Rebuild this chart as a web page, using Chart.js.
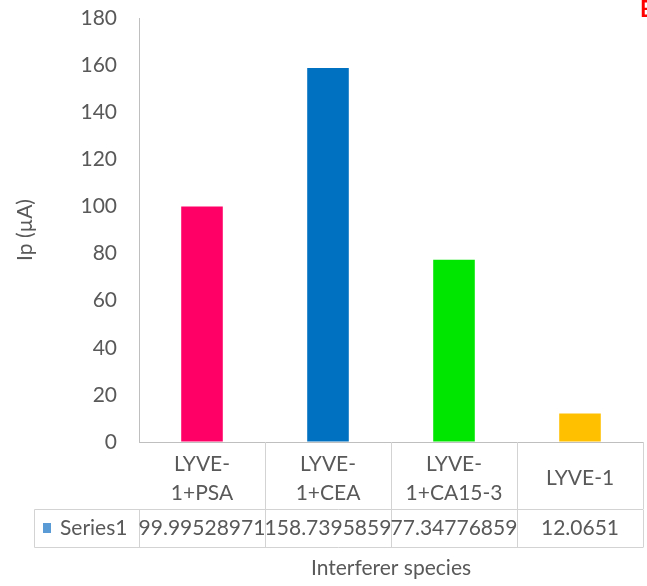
<!DOCTYPE html>
<html>
<head>
<meta charset="utf-8">
<script src="https://cdn.jsdelivr.net/npm/chart.js@4/dist/chart.umd.min.js"></script>
<style>
  html, body { margin: 0; padding: 0; background: #fff; }
  canvas { display: block; }
</style>
</head>
<body>
<canvas id="chart" width="647" height="586"></canvas>
<script>
// Peak current for each interferer mixture
const categories = [["LYVE-", "1+PSA"], ["LYVE-", "1+CEA"], ["LYVE-", "1+CA15-3"], ["LYVE-1"]];
const seriesName = "Series1";
const values = [99.99528971, 158.7395859, 77.34776859, 12.0651];
const barColors = ["#ff0066", "#0070c0", "#00e600", "#ffc000"];
const yTicks = [0, 20, 40, 60, 80, 100, 120, 140, 160, 180];
const panelLetter = "B";

const FONT = "Lato, 'Open Sans', sans-serif";
const SIZE = 21;
const TEXT = "#595959";
const AXIS = "#bfbfbf";
const GRID = "#d3d3d3";

// Excel-style data table drawn under the category axis
const dataTable = {
  id: "dataTable",
  afterDraw(chart) {
    const ctx = chart.ctx;
    const x = chart.scales.x;
    const area = chart.chartArea;
    const n = categories.length;
    const step = x.getPixelForValue(1) - x.getPixelForValue(0);
    const edges = [];
    for (let i = 0; i <= n; i++) edges.push(x.getPixelForValue(i) - step / 2);
    const headTop = area.bottom;
    const headBottom = headTop + 67;
    const rowBottom = headBottom + 38;
    const rowLeft = 34;

    ctx.save();
    ctx.strokeStyle = GRID;
    ctx.lineWidth = 1;
    ctx.beginPath();
    // header cell verticals (axis line forms the top edge)
    edges.forEach((e, i) => {
      if (i === 0) return;
      const px = Math.round(e) + 0.5;
      ctx.moveTo(px, headTop);
      ctx.lineTo(px, headBottom);
    });
    // series row
    const yb1 = Math.round(headBottom) + 0.5;
    const yb2 = Math.round(rowBottom) + 0.5;
    ctx.moveTo(rowLeft + 0.5, yb1);
    ctx.lineTo(edges[n], yb1);
    ctx.moveTo(rowLeft + 0.5, yb2);
    ctx.lineTo(edges[n], yb2);
    ctx.moveTo(rowLeft + 0.5, yb1);
    ctx.lineTo(rowLeft + 0.5, yb2);
    edges.forEach((e) => {
      const px = Math.round(e) + 0.5;
      ctx.moveTo(px, yb1);
      ctx.lineTo(px, yb2);
    });
    ctx.stroke();

    // legend key and series label
    const midY = (headBottom + rowBottom) / 2;
    ctx.fillStyle = "#5b9bd5";
    ctx.fillRect(43, midY - 5, 8, 10);
    ctx.fillStyle = TEXT;
    ctx.font = SIZE + "px " + FONT;
    ctx.textBaseline = "middle";
    ctx.textAlign = "left";
    ctx.fillText(seriesName, 60, midY);

    // values, centred on each column
    ctx.textAlign = "center";
    values.forEach((v, i) => {
      ctx.fillText(String(v), x.getPixelForValue(i), midY);
    });

    // panel letter
    ctx.fillStyle = "#ff0000";
    ctx.font = "bold 22px " + FONT;
    ctx.textAlign = "left";
    ctx.textBaseline = "alphabetic";
    ctx.fillText(panelLetter, 640, 17);
    ctx.restore();
  }
};

new Chart(document.getElementById("chart"), {
  type: "bar",
  data: {
    labels: categories,
    datasets: [{
      label: seriesName,
      data: values,
      backgroundColor: barColors,
      borderWidth: 0,
      categoryPercentage: 1,
      barPercentage: 0.33
    }]
  },
  options: {
    responsive: false,
    animation: false,
    devicePixelRatio: 1,
    layout: { padding: { top: 18, right: 4, bottom: 0, left: 0 } },
    plugins: {
      legend: { display: false },
      tooltip: { enabled: false },
      title: { display: false }
    },
    scales: {
      x: {
        grid: { display: false },
        border: { display: true, color: AXIS, width: 1 },
        ticks: {
          color: TEXT,
          font: { family: FONT, size: SIZE, lineHeight: 1.4 },
          padding: 14,
          maxRotation: 0,
          autoSkip: false,
          crossAlign: "center"
        },
        title: {
          display: true,
          text: "Interferer species",
          color: TEXT,
          font: { family: FONT, size: SIZE },
          padding: { top: 0, bottom: 5 }
        },
        afterFit(scale) {
          scale.height = 144;
          scale.paddingTop = 0;
          scale.paddingBottom = 0;
        }
      },
      y: {
        min: 0,
        max: 180,
        afterBuildTicks(scale) { scale.ticks = yTicks.map(v => ({ value: v })); },
        grid: { drawOnChartArea: false, drawTicks: false },
        border: { display: true, color: AXIS, width: 1 },
        ticks: {
          color: TEXT,
          font: { family: FONT, size: SIZE },
          padding: 22
        },
        title: {
          display: true,
          text: "Ip (µA)",
          color: TEXT,
          font: { family: FONT, size: SIZE },
          padding: { top: 13, bottom: 0 }
        },
        afterFit(scale) {
          scale.width = 139;
          scale.paddingTop = 0;
          scale.paddingBottom = 0;
        }
      }
    }
  },
  plugins: [dataTable]
});
</script>
</body>
</html>
